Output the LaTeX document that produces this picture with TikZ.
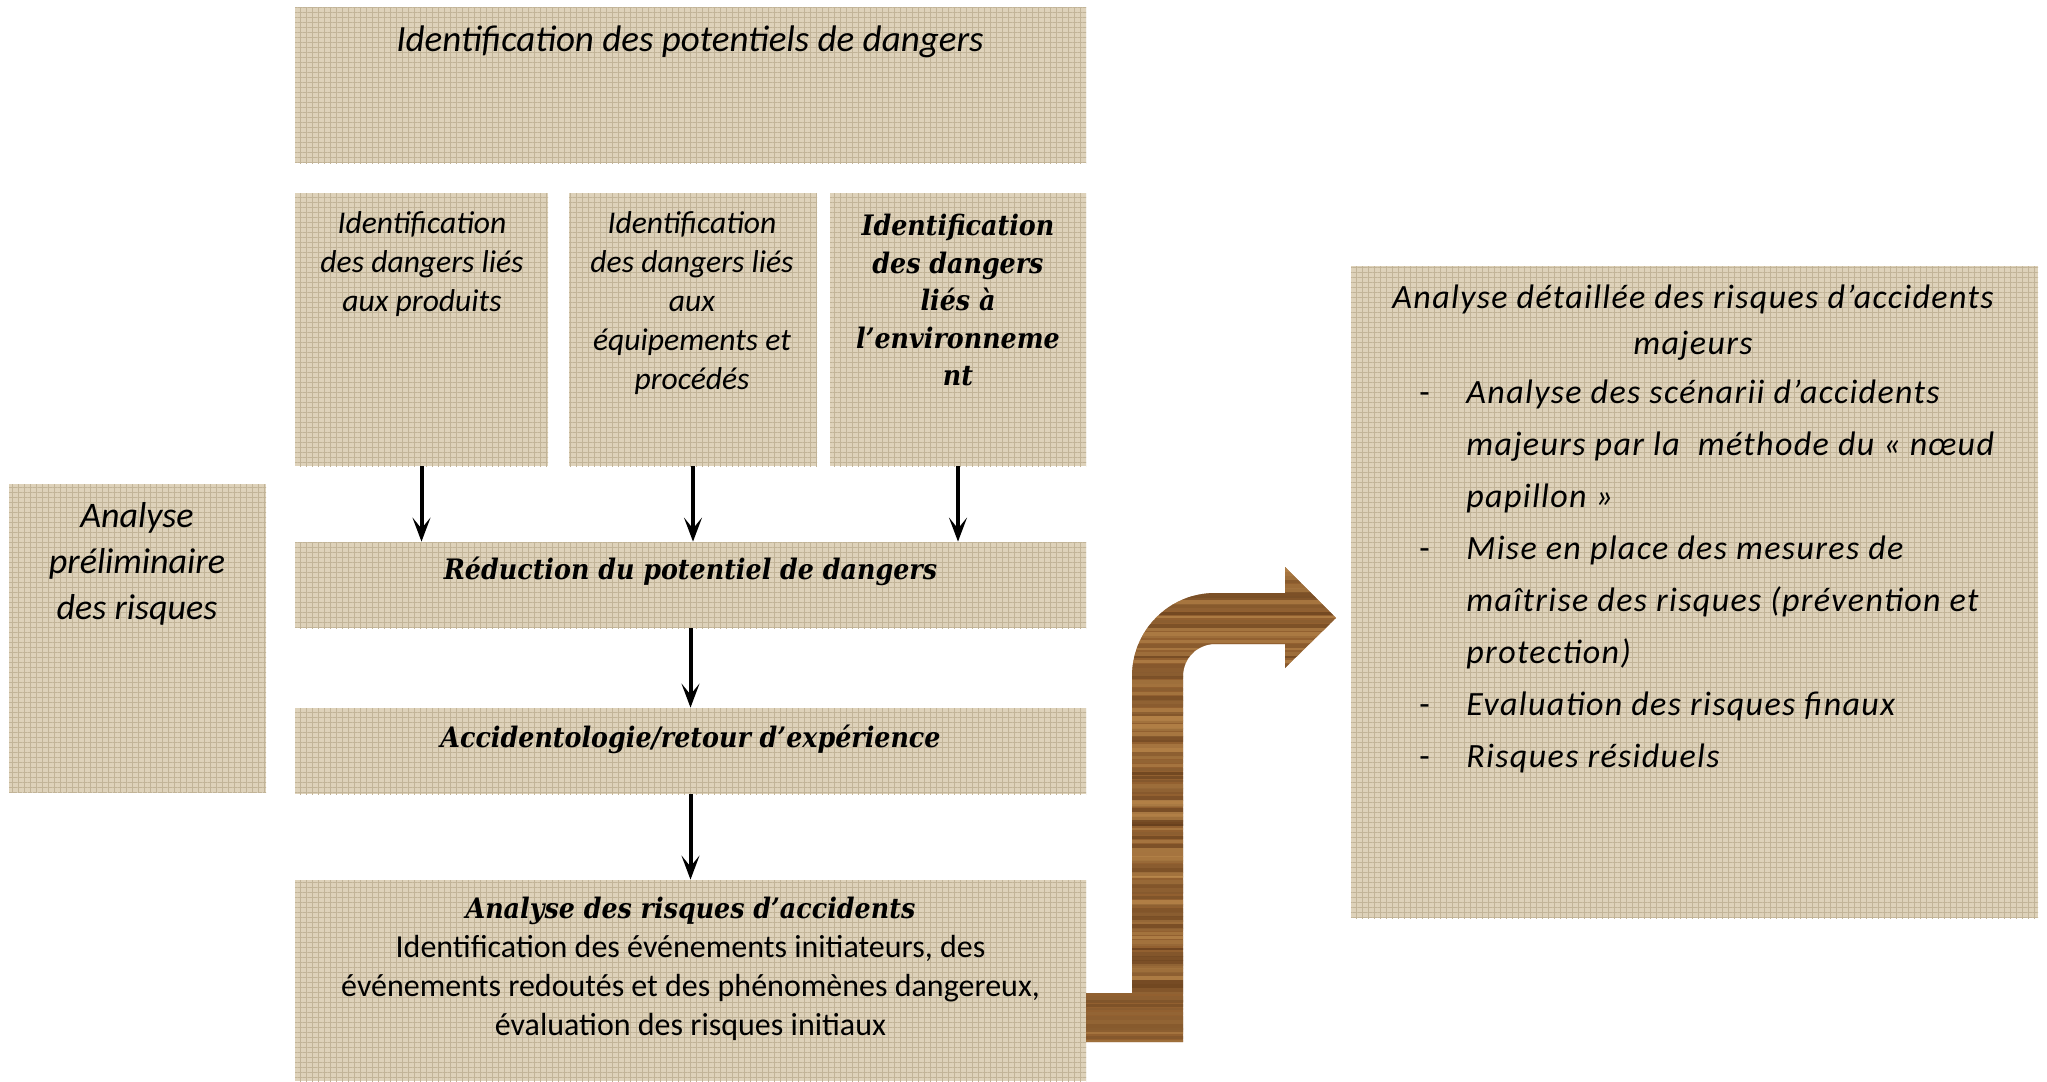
\documentclass[tikz,border=0pt]{standalone}
\usepackage{fontspec}
\setmainfont{Carlito}
\newfontfamily\serifbold{DejaVu Serif Condensed}
\usetikzlibrary{arrows.meta,patterns.meta}

\definecolor{burlap}{RGB}{222,210,186}
\definecolor{burlapdark}{RGB}{194,180,152}
\definecolor{woodmid}{RGB}{146,96,48}
\definecolor{wooddark}{RGB}{90,52,22}
\definecolor{woodlight}{RGB}{200,150,86}

\tikzset{
  box/.style={fill=burlap, inner sep=0pt,
    postaction={pattern={Lines[angle=0,distance=2.5pt,line width=0.45pt]}, pattern color=burlapdark},
    postaction={pattern={Lines[angle=90,distance=3pt,line width=0.45pt]}, pattern color=burlapdark}},
  itxt/.style={inner sep=0pt, align=center, font=\fontsize{15.8}{19.5}\selectfont\itshape},
  btxt/.style={inner sep=0pt, align=center, font=\fontsize{14.1}{18.75}\selectfont\serifbold\bfseries\itshape},
  rtxt/.style={inner sep=0pt, align=center, font=\fontsize{17}{23}\selectfont\itshape\addfontfeature{LetterSpace=4}},
  arr/.style={-{Stealth[length=12pt,width=9pt,inset=5.5pt]}, line width=2pt},
}

\begin{document}
\begin{tikzpicture}[x=0.5pt,y=-0.5pt]
\useasboundingbox (0,0) rectangle (2047,1082);

% boxes
\node[box, minimum width=395.5pt, minimum height=78pt]   (top)  at (690.5,85)   {};
\node[box, minimum width=126.5pt, minimum height=136.5pt] (boxA) at (421.5,329.5) {};
\node[box, minimum width=124pt,   minimum height=136.5pt] (boxB) at (693,329.5)   {};
\node[box, minimum width=128pt,   minimum height=136.5pt] (boxC) at (958,329.5)   {};
\node[box, minimum width=395.5pt, minimum height=43pt]    (red)  at (690.5,585)   {};
\node[box, minimum width=395.5pt, minimum height=43pt]    (acc)  at (690.5,751)   {};
\node[box, minimum width=395.5pt, minimum height=100.5pt] (ana)  at (690.5,980.5) {};
\node[box, minimum width=128.5pt, minimum height=154pt]   (prel) at (137.5,638)   {};
\node[box, minimum width=343.5pt, minimum height=326pt]   (det)  at (1694.5,592)  {};

% wooden bent arrow
\begin{scope}
  \clip (1086,1042) -- (1183,1042) -- (1183,676)
    .. controls (1183,658.3) and (1197.3,644) .. (1215,644)
    -- (1285,644) -- (1285,668) -- (1336,618) -- (1285,567) -- (1285,593) -- (1215,593)
    .. controls (1169.2,593) and (1132,630.2) .. (1132,676)
    -- (1132,993) -- (1086,993) -- cycle;
  \fill[woodmid] (1080,560) rectangle (1340,1050);
  \pgfmathsetseed{11}
  \foreach \i in {0,...,122} {
    \pgfmathsetmacro{\yy}{560+4*\i}
    \pgfmathtruncatemacro{\pc}{100*rnd}
    \pgfmathsetmacro{\hh}{2+4*rnd}
    \fill[wooddark!\pc!woodlight, opacity=0.6] (1080,\yy) rectangle (1340,\yy+\hh);
  }
\end{scope}

% texts
\node[itxt, font=\fontsize{18.5}{22}\selectfont\itshape] (ttop) at (690,42) {Identification des potentiels de dangers};
\node[itxt] (tA) at (422,264) {Identification\\des dangers liés\\aux produits};
\node[itxt] (tB) at (692,303) {Identification\\des dangers liés\\aux\\équipements et\\procédés};
\node[btxt] (tC) at (958,300) {Identification\\des dangers\\liés à\\l’environneme\\nt};
\node[btxt] (tRed) at (690.5,571) {Réduction du potentiel de dangers};
\node[btxt] (tAcc) at (690.5,739) {Accidentologie/retour d’expérience};
\node[itxt, font=\fontsize{16}{19.5}\selectfont] (tAna) at (690.5,969)
  {{\serifbold\bfseries\itshape\fontsize{14.1}{19.5}\selectfont Analyse des risques d’accidents}\\
   Identification des événements initiateurs, des\\
   événements redoutés et des phénomènes dangereux,\\
   évaluation des risques initiaux};
\node[itxt, font=\fontsize{18}{23}\selectfont\itshape] (tPrel) at (137,564)
  {Analyse\\préliminaire\\des risques};
\node[rtxt] (tDet) at (1693,323) {Analyse détaillée des risques d’accidents\\majeurs};
\node[inner sep=0pt, anchor=west, font=\fontsize{17}{26}\selectfont\itshape\addfontfeature{LetterSpace=4}] (tList) at (1419,575) {%
  \begin{tabular}{@{}p{23.5pt}@{}l@{}}
  \upshape - & Analyse des scénarii d’accidents\\
   & majeurs par la\ \ méthode du « nœud\\
   & papillon »\\
  \upshape - & Mise en place des mesures de\\
   & maîtrise des risques (prévention et\\
   & protection)\\
  \upshape - & Evaluation des risques finaux\\
  \upshape - & Risques résiduels
  \end{tabular}};

% connectors
\draw[arr] (boxA.south) -- (boxA.south |- red.north);
\draw[arr] (boxB.south) -- (boxB.south |- red.north);
\draw[arr] (boxC.south) -- (boxC.south |- red.north);
\draw[arr] (red.south) -- (acc.north);
\draw[arr] (acc.south) -- (ana.north);
\end{tikzpicture}
\end{document}
